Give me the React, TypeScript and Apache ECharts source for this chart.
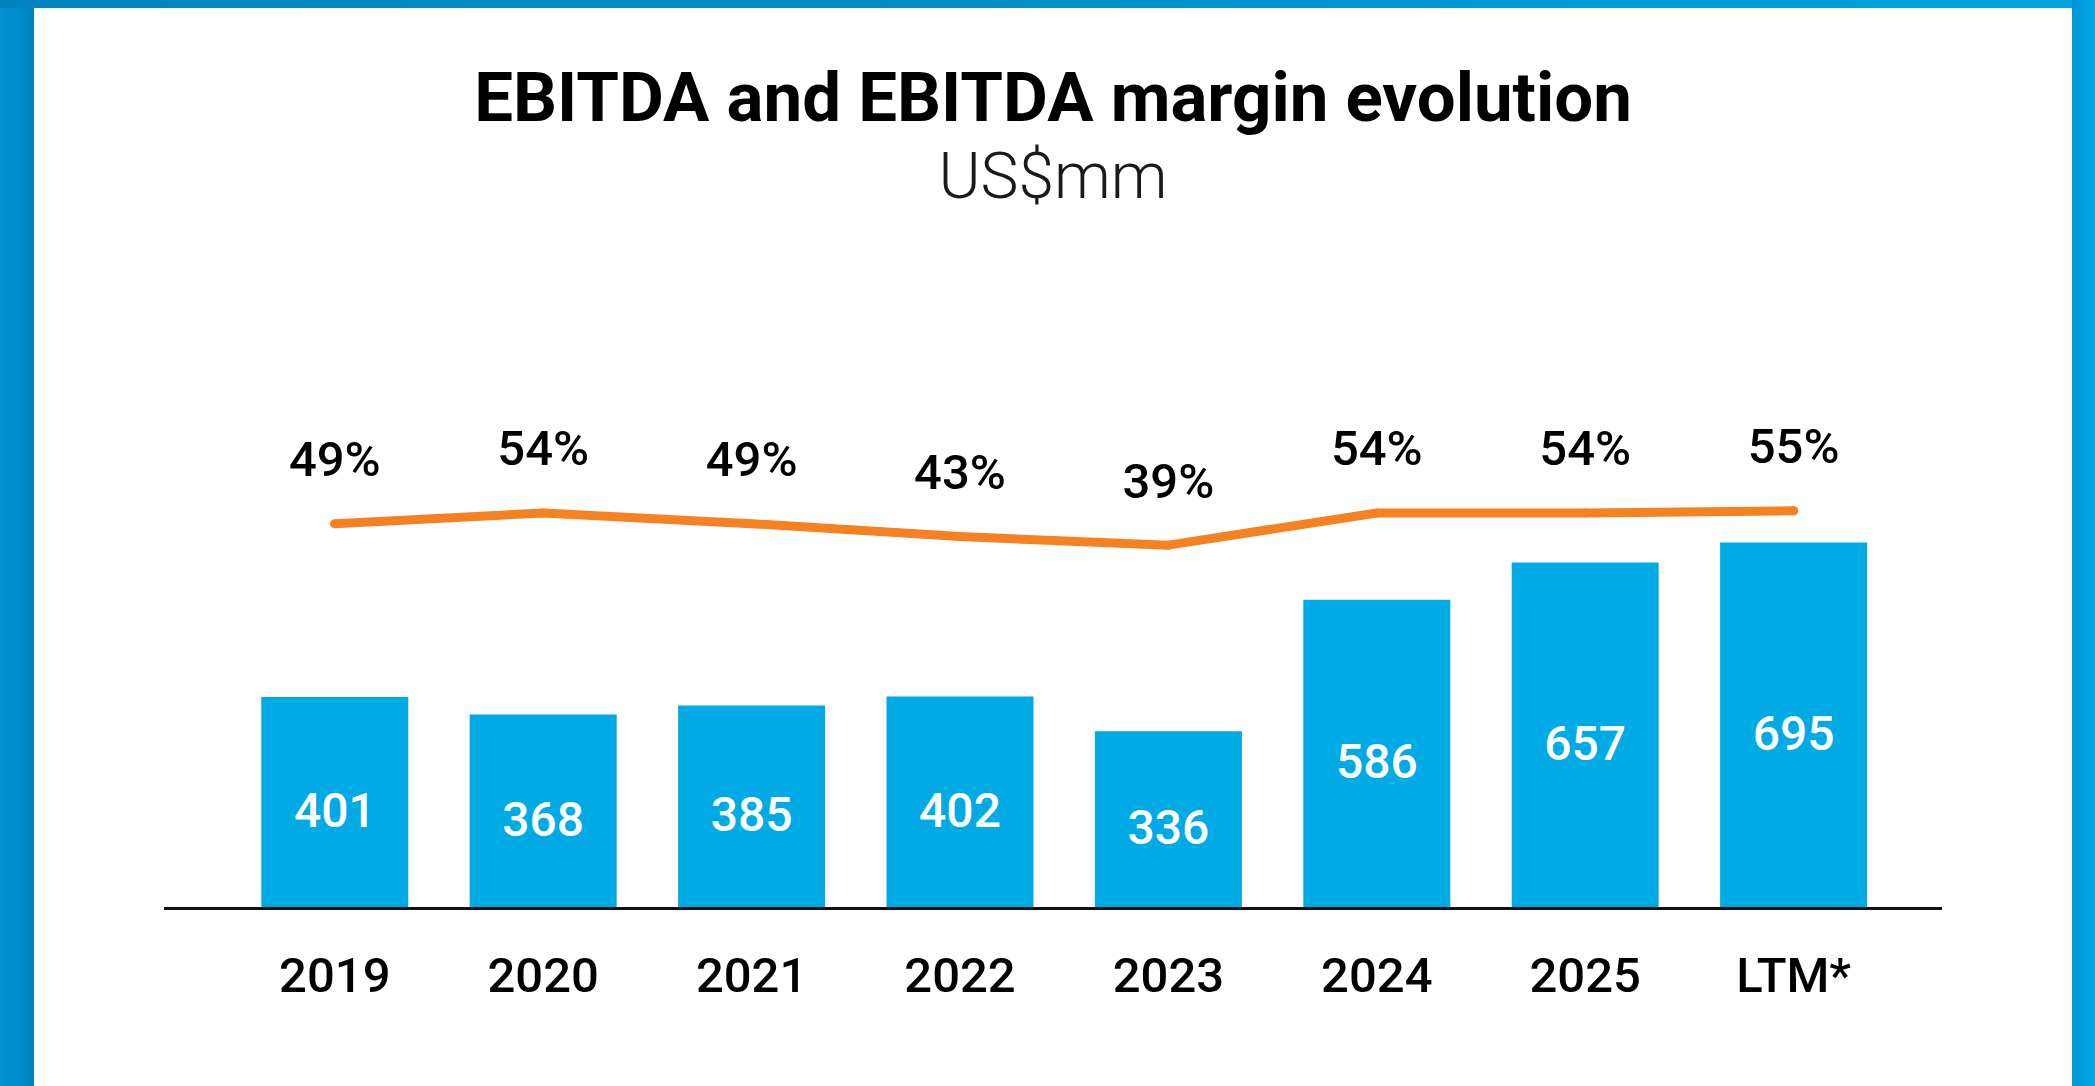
import React, { useEffect, useRef } from "react";
import * as echarts from "echarts";

const categories = ["2019", "2020", "2021", "2022", "2023", "2024", "2025", "LTM*"];
const ebitda = [401, 368, 385, 402, 336, 586, 657, 695];
const marginPct = [49, 54, 49, 43, 39, 54, 54, 55];
const titleText = "EBITDA and EBITDA margin evolution";
const subtitleText = "US$mm";

const BAR_COLOR = "#00AAE5";
const LINE_COLOR = "#F58220";
const FONT = "Roboto";

export default function App() {
  const ref = useRef<HTMLDivElement>(null);
  useEffect(() => {
    const chart = echarts.init(ref.current!, null, { renderer: "svg" });
    chart.setOption({
      animation: false,
      backgroundColor: "#ffffff",
      textStyle: { fontFamily: FONT },
      grid: { left: 230.6, right: 197.2, top: 382, bottom: 178, containLabel: false },
      xAxis: {
        type: "category",
        data: categories,
        axisLine: { show: false },
        axisTick: { show: false },
        splitLine: { show: false },
        axisLabel: {
          margin: 43,
          fontSize: 49,
          fontWeight: 500,
          color: "#000000",
          fontFamily: FONT,
        },
      },
      yAxis: [
        { type: "value", min: 0, max: 1000, show: false },
        { type: "value", min: -130, max: 115, show: false },
      ],
      series: [
        {
          type: "bar",
          data: ebitda,
          barWidth: 147,
          itemStyle: { color: BAR_COLOR },
          label: {
            show: true,
            position: "inside",
            offset: [0, 8],
            color: "#ffffff",
            fontSize: 48,
            fontWeight: 500,
            fontFamily: FONT,
          },
          z: 2,
        },
        {
          type: "line",
          yAxisIndex: 1,
          data: marginPct,
          symbol: "circle",
          symbolSize: 9,
          showSymbol: true,
          itemStyle: { color: LINE_COLOR },
          lineStyle: { color: LINE_COLOR, width: 9, cap: "round", join: "round" },
          label: {
            show: true,
            position: "top",
            distance: 35,
            formatter: "{c}%",
            color: "#000000",
            fontSize: 49,
            fontWeight: 500,
            fontFamily: FONT,
          },
          z: 5,
        },
      ],
      graphic: [
        {
          type: "rect",
          shape: { x: 0, y: 0, width: 34, height: 1086 },
          style: {
            fill: new echarts.graphic.LinearGradient(0, 0, 1, 0, [
              { offset: 0, color: "#0092D2" },
              { offset: 0.6, color: "#008CCB" },
              { offset: 1, color: "#0080BA" },
            ]),
          },
          z: 1,
        },
        {
          type: "rect",
          shape: { x: 0, y: 0, width: 2095, height: 8 },
          style: {
            fill: new echarts.graphic.LinearGradient(0, 0, 1, 0, [
              { offset: 0, color: "#0084BF" },
              { offset: 0.5, color: "#0090CC" },
              { offset: 1, color: "#00A4E0" },
            ]),
          },
          z: 1,
        },
        {
          type: "rect",
          shape: { x: 2072, y: 0, width: 23, height: 1086 },
          style: {
            fill: new echarts.graphic.LinearGradient(0, 0, 1, 0, [
              { offset: 0, color: "#0096D3" },
              { offset: 1, color: "#00A8E4" },
            ]),
          },
          z: 1,
        },
        {
          type: "line",
          shape: { x1: 164, y1: 908.5, x2: 1942, y2: 908.5 },
          style: { stroke: "#111111", lineWidth: 3 },
          z: 100,
        },
        {
          type: "text",
          x: 1053,
          y: 97,
          style: {
            text: titleText,
            fontSize: 69,
            fontWeight: 700,
            fontFamily: FONT,
            fill: "#000000",
            textAlign: "center",
            textVerticalAlign: "middle",
          },
          z: 10,
        },
        {
          type: "text",
          x: 1053,
          y: 176,
          style: {
            text: subtitleText,
            fontSize: 64,
            fontWeight: 300,
            fontFamily: FONT,
            fill: "#1a1a1a",
            textAlign: "center",
            textVerticalAlign: "middle",
          },
          z: 10,
        },
      ],
    });
    return () => chart.dispose();
  }, []);
  return (
    <div
      ref={ref}
      style={{ position: "fixed", left: 0, top: 0, width: 2095, height: 1086 }}
    />
  );
}
